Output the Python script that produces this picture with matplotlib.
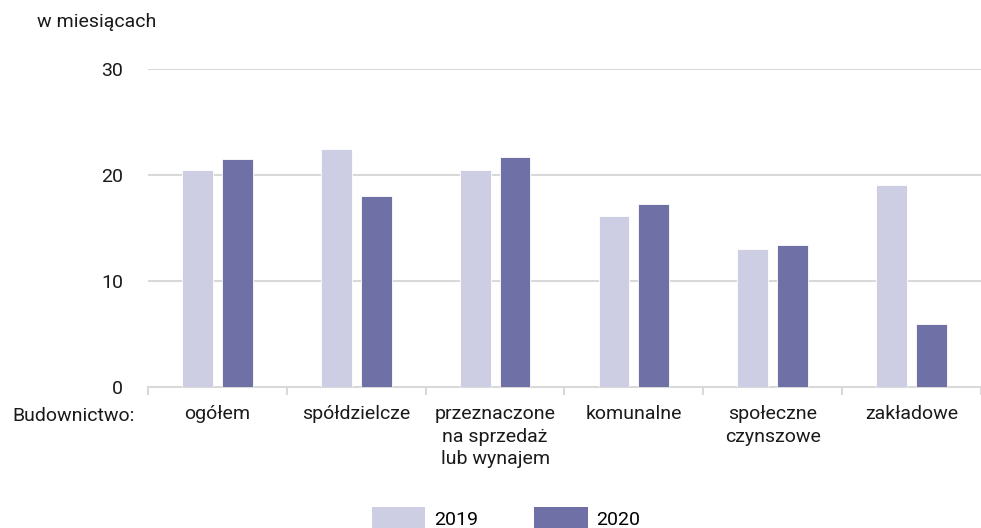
import matplotlib
matplotlib.use("Agg")
import matplotlib.pyplot as plt
from matplotlib.patches import Patch
import numpy as np

categories = ["ogółem", "spółdzielcze", "przeznaczone\nna sprzedaż\nlub wynajem",
              "komunalne", "społeczne\nczynszowe", "zakładowe"]
v2019 = [20.5, 22.5, 20.5, 16.1, 13.0, 19.1]
v2020 = [21.5, 18.0, 21.7, 17.3, 13.4, 5.9]
yticks = [0, 10, 20, 30]

plt.rcParams['font.family'] = ['Roboto', 'DejaVu Sans']
FS = 14

c19 = '#CDCEE4'
c20 = '#6F70A6'
grid = '#D9D9D9'
txt = '#1a1a1a'

fig = plt.figure(figsize=(9.81, 5.28), dpi=100)
ax = fig.add_axes([148/981, 1-387/528, 1-148/981, (387-69)/528])

x = np.arange(len(categories))
w = 0.222
off = 0.143
ax.bar(x - off, v2019, w, color=c19, edgecolor='white', linewidth=0.6, zorder=3)
ax.bar(x + off, v2020, w, color=c20, edgecolor='white', linewidth=0.6, zorder=3)

ax.set_xlim(-0.5, len(categories) - 0.5)
ax.set_ylim(0, 30)
ax.set_yticks(yticks)
ax.set_yticklabels([str(t) for t in yticks], fontsize=FS, color=txt)
ax.tick_params(axis='y', length=0, pad=18)
for t in yticks[1:]:
    ax.axhline(t, color=grid, linewidth=1.5, zorder=1)

ax.set_xticks(x)
ax.set_xticklabels(categories, fontsize=FS, color=txt, linespacing=1.32, va='top')
ax.tick_params(axis='x', which='major', length=0, pad=13)
ax.set_xticks(np.arange(-0.5, len(categories), 1), minor=True)
ax.tick_params(axis='x', which='minor', length=6, width=1.5, color=grid)

for s in ['top', 'right', 'left']:
    ax.spines[s].set_visible(False)
ax.spines['bottom'].set_color(grid)
ax.spines['bottom'].set_linewidth(1.5)

fig.text(12/981, 1-416/528, "Budownictwo:", fontsize=FS, color=txt, va='center', ha='left')
fig.text(37/981, 1-22/528, "w miesiącach", fontsize=FS, color=txt, va='center', ha='left')

handles = [Patch(facecolor=c19, label='2019'), Patch(facecolor=c20, label='2020')]
fig.legend(handles=handles, loc='center', bbox_to_anchor=(506/981, 1-518/528), ncol=2,
           frameon=False, fontsize=FS, handlelength=2.75, handleheight=1.3,
           handletextpad=0.45, columnspacing=2.9, borderpad=0)

fig.savefig("out.png", dpi=100)
